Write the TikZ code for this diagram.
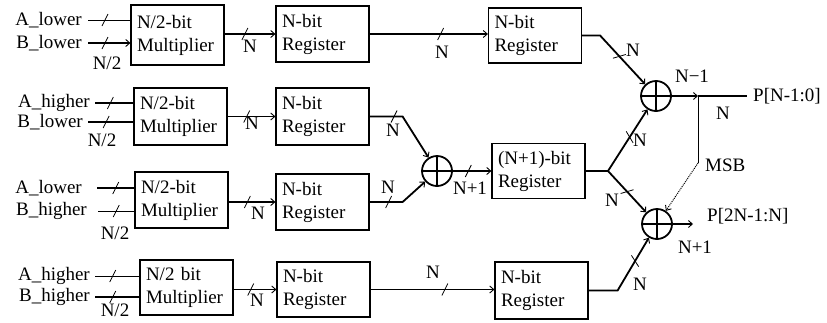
\documentclass[tikz,border=0pt]{standalone}
\usepackage{fontspec}
\setmainfont{Liberation Serif}
\usetikzlibrary{arrows.meta,calc,decorations.markings}
\begin{document}
\begin{tikzpicture}[x=1pt,y=-1pt,
  font=\fontsize{19}{23}\selectfont,
  box/.style={draw, line width=1.2pt, text width=81pt, inner xsep=6pt, inner ysep=0pt, align=left, minimum height=#1},
  box/.default=56,
  adder/.style={circle, draw, line width=1.8pt, minimum size=30pt, inner sep=0pt},
  lbl/.style={inner sep=0pt},
  bus/.style={line width=1.8pt},
  thinw/.style={line width=1pt},
  arr/.style={-{Straight Barb[length=4pt,width=7pt,line width=0.9pt]}},
  bustick/.style={postaction={decorate,decoration={markings,mark=at position #1 with {\draw[line width=0.8pt,-] (-3pt,-6pt) -- (3pt,6pt);}}}}]
\useasboundingbox (0,0) rectangle (827,322);

% boxes
\node[box=60] (m1) at (177.5,35) {N/2-bit\\Multiplier};
\node[box=56] (r1) at (322.5,34) {N-bit\\Register};
\node[box=55] (rt) at (535,35.5) {N-bit\\Register};
\node[box=57] (m2) at (180.5,116.5) {N/2-bit\\Multiplier};
\node[box=57] (r2) at (322.5,116.5) {N-bit\\Register};
\node[box=56] (m3) at (181.5,200) {N/2-bit\\Multiplier};
\node[box=56] (r3) at (322.5,202) {N-bit\\Register};
\node[box=55] (rn) at (538.5,171) {(N+1)-bit\\Register};
\node[box=55] (m4) at (186.5,287.5) {N/2 bit\\Multiplier};
\node[box=55] (r4) at (323.5,289.5) {N-bit\\Register};
\node[box=57] (rb) at (541.5,290.5) {N-bit\\Register};

% adders
\node[adder] (a1) at (656,96) {};
\node[adder] (a2) at (657,224) {};
\node[adder] (am) at (437,171) {};
\foreach \a in {a1,a2,am}{
  \draw[line width=1.8pt] (\a.north) -- (\a.south) (\a.west) -- (\a.east);
}

% inputs
\node[lbl, anchor=east] (ia1) at (82,20) {A\_lower};
\node[lbl, anchor=east] (ib1) at (82,43) {B\_lower};
\node[lbl, anchor=east] (ia2) at (90,103) {A\_higher};
\node[lbl, anchor=east] (ib2) at (83,122) {B\_lower};
\node[lbl, anchor=east] (ia3) at (82,188) {A\_lower};
\node[lbl, anchor=east] (ib3) at (87,211) {B\_higher};
\node[lbl, anchor=east] (ia4) at (90,276) {A\_higher};
\node[lbl, anchor=east] (ib4) at (90,297) {B\_higher};

\draw[thinw, bustick=.4] ([xshift=6pt]ia1.east) -- (ia1.east -| m1.west);
\draw[bus, arr, bustick=.4] ([xshift=6pt]ib1.east) -- (ib1.east -| m1.west);
\draw[bus, bustick=.4] ([xshift=5pt]ia2.east) -- (ia2.east -| m2.west);
\draw[bus, bustick=.4] ([xshift=5pt]ib2.east) -- (ib2.east -| m2.west);
\draw[bus, bustick=.5] ([xshift=15pt]ia3.east) -- (ia3.east -| m3.west);
\draw[thinw, bustick=.5] ([xshift=11pt]ib3.east) -- (ib3.east -| m3.west);
\draw[thinw, bustick=.4] ([xshift=5pt]ia4.east) -- (ia4.east -| m4.west);
\draw[bus, bustick=.4] ([xshift=5pt]ib4.east) -- (ib4.east -| m4.west);

\node[lbl] at (107,63) {N/2};
\node[lbl] at (102,140) {N/2};
\node[lbl] at (115,233) {N/2};
\node[lbl] at (115,310) {N/2};

% multiplier -> register
\draw[bus, arr, bustick=.4] (m1.east |- r1.west) -- (r1.west);
\draw[bus, arr, bustick=.4] (m2.east |- r2.west) -- (r2.west);
\draw[bus, arr, bustick=.4] (m3.east |- r3.west) -- (r3.west);
\draw[bus, arr, bustick=.4] (m4.east |- r4.west) -- (r4.west);
\node[lbl] at (250,46) {N};
\node[lbl] at (252,123) {N};
\node[lbl] at (258,213) {N};
\node[lbl] at (257,300) {N};

% register -> register
\draw[bus, arr, bustick=.6] (r1.east) -- (r1.east -| rt.west);
\node[lbl] at (442,52) {N};
\draw[bus, arr, bustick=.6] (r4.east) -- (r4.east -| rb.west);
\node[lbl] at (433,272) {N};

% middle adder
\draw[bus, arr, bustick=.3] (r2.east) -- ++(33,0) -- (am);
\node[lbl] at (393,130) {N};
\draw[bus, arr, bustick=.3] (r3.east) -- ++(33,0) -- (am);
\node[lbl] at (388,187) {N};
\draw[line width=1.2pt, arr, bustick=.4] (am.east) -- (am.east -| rn.west);
\node[lbl] at (470,188) {N+1};

% to adder 1
\draw[bus, arr, bustick=.55] (rt.east) -- ++(18,0) -- (a1);
\node[lbl] at (633,50) {N};
\coordinate (br) at (608,171);
\draw[bus] (rn.east) -- (br);
\draw[bus, arr, bustick=.55] (br) -- (a1);
\node[lbl] at (640,140) {N};
\draw[bus, arr, bustick=.5] (br) -- (a2);
\node[lbl] at (612,200) {N};
\draw[bus, arr, bustick=.7] (rb.east) -- ++(29,0) -- (a2);
\node[lbl] at (640,284) {N};

% outputs
\node[lbl, anchor=west] (pn) at (753,96) {P[N-1:0]};
\coordinate (tap) at (698,96);
\draw[bus, arr] (a1.east) -- (tap);
\draw[bus] (tap) -- ([xshift=-6pt]pn.west);
\node[lbl] at (692,76) {N−1};
\node[lbl] at (723,113) {N};
\coordinate (msb) at (698,163);
\draw[thinw] (tap) -- (msb);
\draw[thinw, densely dotted, arr] (msb) -- (a2);
\node[lbl, anchor=west] at (705,165) {MSB};

\coordinate (p2end) at (693,224);
\draw[bus, arr] (a2.east) -- (p2end);
\node[lbl, anchor=west] (p2) at (707,216) {P[2N-1:N]};
\node[lbl] at (695,247) {N+1};
\end{tikzpicture}
\end{document}
